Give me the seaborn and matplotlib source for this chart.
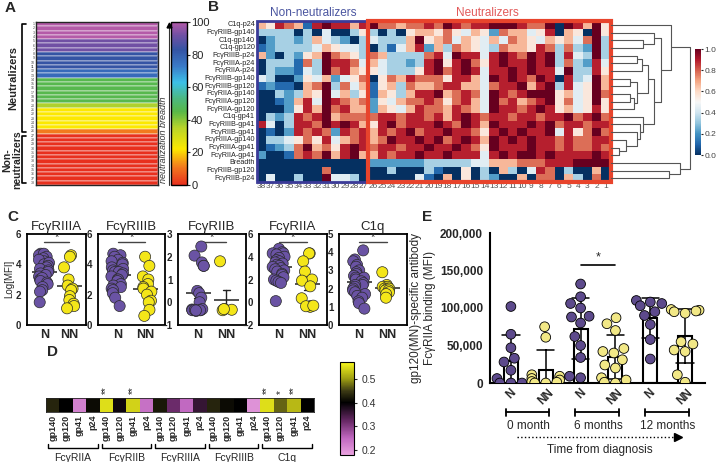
import warnings
import numpy as np
import pandas as pd
import matplotlib
matplotlib.use("Agg")
import matplotlib.pyplot as plt
from matplotlib.colors import LinearSegmentedColormap
from matplotlib.patches import Rectangle
from matplotlib.lines import Line2D
import seaborn as sns

warnings.filterwarnings("ignore")

# ---------------- data ----------------
# A: neutralization breadth per subject (1..38)
subjects = list(range(1, 39))
breadth = [100, 100, 100, 100, 92, 92, 92, 83, 83, 83, 83, 77, 77,
           46, 46, 46, 46, 46, 46, 36, 22, 22, 22, 22, 22, 11,
           0, 0, 0, 0, 0, 0, 0, 0, 0, 0, 0, 0]

# B: normalised responses (digit/9), columns 38..27 (non-neutr.) then 26..1
hm_rows = ["C1q-p24", "FcγRIIB-gp140", "C1q-gp140", "C1q-gp120", "FcγRIIIB-p24",
           "FcγRIIIA-p24", "FcγRIIA-p24", "FcγRIIIB-gp140", "FcγRIIIB-gp120",
           "FcγRIIA-gp140", "FcγRIIIA-gp120", "FcγRIIA-gp120", "C1q-gp41",
           "FcγRIIIB-gp41", "FcγRIIB-gp41", "FcγRIIIA-gp140", "FcγRIIIA-gp41",
           "FcγRIIA-gp41", "Breadth", "FcγRIIB-gp120", "FcγRIIB-p24"]
nn_cols = [38, 37, 36, 35, 34, 33, 32, 31, 30, 29, 28, 27]
n_cols = [26, 25, 24, 23, 22, 21, 20, 19, 18, 17, 16, 15, 14, 13, 12, 11, 10,
          9, 8, 7, 6, 5, 4, 3, 2, 1]
nn_cells = ["658761898868", "333303040035", "023323643203", "123333465443",
            "620325697653", "033317398874", "032214397865", "430025462457",
            "121106793746", "003236594635", "001268498767", "000258697866",
            "032387896777", "840388798986", "010287872878", "033457584678",
            "012379675898", "200178796896", "000000000000", "000000070000",
            "040030094430"]
n_cells = ["97767787987889998779098695", "30305665754652766458065095",
           "43336956746546476546564793", "03146826376543766587373293",
           "76333378498848987989384393", "64332389589758988989373284",
           "54333589789848898988493385", "05768777588649898798083496",
           "15637667886647889689384596", "16536889678749878999564597",
           "25467787578649786789574595", "26546877687649887898564585",
           "78878878689878878878897897", "58978889879869888989788788",
           "68789788988758989889485797", "67988989789869898988787788",
           "78878898898759888988787787", "68788988988848989989888898",
           "22222233333446667778889999", "00300031005030630487030060",
           "00000410605032006077063070"]
# dendrogram merges (left, right, height)
dendro_links = [(2, 3, 0.41), (1, 21, 0.55), (4, 5, 0.33), (23, 6, 0.40),
                (7, 8, 0.25), (9, 10, 0.25), (26, 11, 0.30), (25, 27, 0.33),
                (24, 28, 0.47), (16, 17, 0.11), (15, 30, 0.19), (14, 31, 0.33),
                (13, 32, 0.37), (12, 33, 0.41), (29, 34, 0.55), (22, 35, 0.64),
                (0, 36, 0.76), (19, 20, 0.74), (18, 38, 0.88), (37, 39, 1.0)]

# C: Log[MFI] neutralizers (N) vs non-neutralizers (NN)
c_titles = ["FcγRIIIA", "FcγRIIIB", "FcγRIIB", "FcγRIIA", "C1q"]
c_n = [
    [4.7, 4.6, 4.7, 4.5, 4.4, 4.2, 4.3, 4.0, 4.1, 3.9, 3.8, 3.7, 3.6, 3.5,
     3.4, 3.3, 3.2, 3.0, 3.1, 2.9, 2.8, 2.7, 2.5, 2.3, 2.2, 1.5],
    [4.7, 4.6, 4.5, 4.3, 4.2, 4.1, 4.0, 3.8, 3.7, 3.6, 3.5, 3.5, 3.4, 3.3,
     3.2, 3.0, 3.0, 2.9, 2.7, 2.6, 2.5, 2.4, 2.3, 2.1, 1.8, 1.25],
    [2.45, 2.05, 1.75, 1.6, 1.6, 0.5, 0.4, 0.2, 0.0, -0.35, -0.32, -0.36,
     -0.35, -0.3, -0.38, -0.35, -0.33, -0.36],
    [4.7, 4.4, 4.3, 4.3, 4.2, 4.0, 3.9, 3.7, 3.6, 3.5, 3.4, 3.3, 3.2, 3.1,
     3.0, 2.9, 2.8, 2.7, 2.5, 2.4, 2.2, 2.0, 1.9, 1.8, 1.7, 0.1],
    [4.1, 3.6, 3.5, 3.3, 3.2, 3.0, 2.9, 2.8, 2.7, 2.6, 2.6, 2.5, 2.4, 2.3,
     2.2, 2.2, 2.1, 2.0, 1.9, 1.8, 1.7, 1.6, 1.5, 1.3, 1.2, 0.9],
]
c_nn = [
    [4.6, 4.5, 3.8, 3.0, 2.6, 2.4, 2.3, 1.9, 1.65, 1.4, 1.25, 1.1],
    [4.5, 3.9, 3.2, 3.0, 2.7, 2.5, 2.4, 2.2, 2.0, 1.6, 1.5, 1.0, 0.6],
    [1.8, -0.3, -0.33, -0.35, -0.3],
    [4.3, 4.3, 3.6, 2.7, 2.0, 1.9, 1.4, 0.35, -0.35, -0.4, -0.35, -0.3],
    [2.9, 2.2, 2.1, 2.1, 2.0, 2.0, 2.0, 1.9, 1.9, 1.8, 1.7, 1.5],
]

# D: correlation strip
d_groups = ["FcγRIIA", "FcγRIIB", "FcγRIIIA", "FcγRIIIB", "C1q"]
d_antigens = ["gp140", "gp120", "gp41", "p24"]
d_values = [0.43, 0.40, 0.22, 0.41,
            0.55, 0.39, 0.54, 0.24,
            0.42, 0.32, 0.25, 0.36,
            0.43, 0.41, 0.40, 0.20,
            0.55, 0.47, 0.52, 0.40]
d_stars = ["", "", "", "", "**", "", "**", "", "", "", "", "",
           "", "", "", "", "**", "*", "**", ""]

# E: gp120(MN)-specific FcγRIIA binding (MFI)
e_times = ["0 month", "6 months", "12 months"]
e_n0 = [102000, 65000, 47000, 33000, 28000, 17000, 6000, 0, 0, 0]
e_nn0 = [75000, 61000, 11000, 9000, 6000, 4000, 2000, 1000, 0, 0]
e_n6 = [132000, 115000, 100000, 106000, 89000, 88000, 80000, 62000, 50000,
        34000, 9000, 7000]
e_nn6 = [87000, 79000, 70000, 46000, 42000, 40000, 31000, 24000, 20000, 7000,
         4000, 1000, 0]
e_n12 = [110000, 108000, 106000, 103000, 95000, 90000, 78000, 58000, 32000]
e_nn12 = [98000, 97000, 96000, 95000, 93000, 55000, 52000, 44000, 42000,
          11000, 1000]

# ---------------- styling ----------------
sns.set_style("white")
plt.rcParams["font.family"] = ["Liberation Sans", "DejaVu Sans"]
PURPLE = "#6a53a4"
YELLOW = "#f4e619"
E_PURPLE = "#5d4a8c"
E_YELLOW = "#f2e886"

W, H = 720, 462
fig = plt.figure(figsize=(7.2, 4.62), dpi=100)


def px_axes(x0, y0, x1, y1):
    return fig.add_axes([x0 / W, 1 - y1 / H, (x1 - x0) / W, (y1 - y0) / H])


def fig_line(xs, ys, **kw):
    fig.add_artist(Line2D([x / W for x in xs], [1 - y / H for y in ys],
                          color=kw.pop("color", "black"), lw=kw.pop("lw", 1.2), **kw))


def ftext(x, y, s, **kw):
    fig.text(x / W, 1 - y / H, s, **kw)


# ---------------- panel A ----------------
cmapA = LinearSegmentedColormap.from_list("breadth", [
    (0.0, "#e8301e"), (0.11, "#f27a1e"), (0.22, "#fce800"), (0.35, "#b8d42a"),
    (0.45, "#58b848"), (0.53, "#4cb880"), (0.63, "#3cc0e8"), (0.73, "#3a7ac8"),
    (0.83, "#3454a4"), (0.92, "#7050a4"), (1.0, "#b45aa8")])
axA = px_axes(36, 22, 158, 185)
caxA = px_axes(171, 22, 187, 185)
dfA = pd.DataFrame({"breadth": breadth}, index=subjects)
sns.heatmap(dfA, ax=axA, cmap=cmapA, vmin=0, vmax=100, cbar_ax=caxA,
            xticklabels=False, yticklabels=True, linewidths=0.15,
            linecolor=(1, 1, 1, 0.25))
axA.tick_params(axis="y", labelsize=2.6, length=0, pad=1, labelcolor="#444")
axA.set_ylabel("")
for sp in axA.spines.values():
    sp.set_visible(True)
    sp.set_linewidth(1)
caxA.set_yticks([0, 20, 40, 60, 80, 100])
caxA.tick_params(labelsize=8, length=2, width=0.8, pad=1)
cbA = axA.collections[0].colorbar
cbA.outline.set_linewidth(1)
cbA.outline.set_edgecolor("black")

ftext(163, 140, "neutralization breadth", rotation=90, style="italic",
      fontsize=6.5, ha="center", va="center", color="#333")
fig_line([169, 169], [185, 26], lw=0.8, color="#333")
fig.add_artist(Line2D([169 / W], [1 - 25 / H], marker="^", markersize=3.5,
                      color="black"))

fig_line([26, 22, 22, 26], [24, 24, 132, 132])
fig_line([26, 22, 22, 26], [136, 136, 183, 183])
ftext(13, 78, "Neutralizers", rotation=90, fontweight="bold", fontsize=8,
      ha="center", va="center")
ftext(12, 160, "Non-\nneutralizers", rotation=90, fontweight="bold",
      fontsize=7.5, ha="center", va="center", multialignment="center",
      linespacing=0.95)
ftext(5, 8, "A", fontweight="bold", fontsize=11, va="center")

# ---------------- panel B ----------------
for a, b in zip(nn_cells, n_cells):
    assert len(a) == len(nn_cols) and len(b) == len(n_cols)
vals = np.array([[int(c) / 9 for c in a + b] for a, b in zip(nn_cells, n_cells)])
dfB = pd.DataFrame(vals, index=hm_rows, columns=nn_cols + n_cols)

axB = px_axes(256.5, 21, 610.5, 182)
caxB = px_axes(695, 49, 701, 155)
sns.heatmap(dfB, ax=axB, cmap="RdBu_r", vmin=0, vmax=1, cbar_ax=caxB,
            xticklabels=True, yticklabels=True)
axB.tick_params(axis="both", length=0, pad=1)
axB.set_yticklabels(hm_rows, rotation=0, fontsize=5.2, color="#222")
axB.set_xticklabels([str(c) for c in dfB.columns], rotation=0, fontsize=6,
                    color="#555")
axB.add_patch(Rectangle((0, 0), len(nn_cols), len(hm_rows), fill=False,
                        ec="#3b3b98", lw=2, clip_on=False))
axB.add_patch(Rectangle((len(nn_cols), 0), len(n_cols), len(hm_rows),
                        fill=False, ec="#e8442c", lw=3, clip_on=False))
caxB.set_yticks([0, 0.2, 0.4, 0.6, 0.8, 1.0])
caxB.set_yticklabels(["0.0", "0.2", "0.4", "0.6", "0.8", "1.0"])
caxB.tick_params(labelsize=6, length=1.5, pad=1, labelcolor="#444")
ftext(313, 13, "Non-neutralizers", color="#4a55a0", fontsize=8.5,
      ha="center", va="center")
ftext(487, 13, "Neutralizers", color="#e25a5a", fontsize=8.5,
      ha="center", va="center")
ftext(208, 7, "B", fontweight="bold", fontsize=11, va="center")

# dendrogram
axDen = px_axes(610.5, 21, 690, 182)
axDen.set_xlim(0, 1.0)
axDen.set_ylim(len(hm_rows), 0)
axDen.axis("off")
ypos = {i: i + 0.5 for i in range(len(hm_rows))}
hgt = {i: 0.0 for i in range(len(hm_rows))}
for k, (a, b, h) in enumerate(dendro_links):
    node = len(hm_rows) + k
    axDen.plot([hgt[a], h, h, hgt[b]], [ypos[a], ypos[a], ypos[b], ypos[b]],
               color="#555", lw=0.8, clip_on=False)
    ypos[node] = (ypos[a] + ypos[b]) / 2
    hgt[node] = h

# ---------------- panel C ----------------
c_left = [27, 98, 178, 259, 339]
c_width = [59, 67, 68, 68, 68]
c_ylims = [(0, 6), (0, 6), (-1, 3), (-2, 6), (0, 5)]
c_yticks = [[0, 2, 4, 6], [0, 2, 4, 6], [-1, 0, 1, 2, 3], [-2, 0, 2, 4, 6],
            [0, 1, 2, 3, 4, 5]]
for i, title in enumerate(c_titles):
    ax = px_axes(c_left[i], 234, c_left[i] + c_width[i], 325)
    dfc = pd.DataFrame({"grp": ["N"] * len(c_n[i]) + ["NN"] * len(c_nn[i]),
                        "val": c_n[i] + c_nn[i]})
    np.random.seed(11 + i)  # fixed jitter only
    sns.stripplot(data=dfc, x="grp", y="val", hue="grp",
                  palette={"N": PURPLE, "NN": YELLOW}, size=8, jitter=0.22,
                  edgecolor="#2a2a2a", linewidth=0.5, legend=False, ax=ax)
    sns.pointplot(data=dfc, x="grp", y="val", errorbar="se", color="#222",
                  markers="_", markersize=18, markeredgewidth=1.1,
                  linestyle="none", capsize=0.25, err_kws={"linewidth": 1},
                  ax=ax)
    ax.set_xlim(-0.7, 1.7)
    ax.set_ylim(*c_ylims[i])
    ax.set_yticks(c_yticks[i])
    ax.set_yticklabels([str(t).replace("-", "\u2212") for t in c_yticks[i]],
                       fontsize=7, fontweight="bold")
    ax.set_xticks([0, 1])
    ax.set_xticklabels(["N", "NN"], fontsize=9, fontweight="bold")
    ax.tick_params(axis="y", length=3, width=1.2, pad=1)
    ax.tick_params(axis="x", length=0, pad=3)
    for sp in ax.spines.values():
        sp.set_visible(True)
        sp.set_linewidth(1.3)
        sp.set_color("black")
    ax.set_xlabel("")
    ax.set_ylabel("")
    ax.set_title(title, fontsize=9.5, pad=3)
    tr = ax.get_xaxis_transform()
    ax.plot([0, 1], [0.91, 0.91], color="#444", lw=1, transform=tr)
    ax.text(0.5, 0.915, "*", transform=tr, ha="center", va="bottom",
            fontsize=8)
ftext(9.5, 279, "Log[MFI]", rotation=90, fontsize=7, ha="center",
      va="center")
ftext(7, 217, "C", fontweight="bold", fontsize=11, va="center")

# ---------------- panel D ----------------
cmapD = LinearSegmentedColormap.from_list("corr", [
    (0.0, "#eaa2e0"), (0.18, "#c068c0"), (0.36, "#6a2a68"), (0.564, "#000000"),
    (0.69, "#3c3a14"), (0.82, "#9c9c12"), (1.0, "#f8f81c")])
axDs = px_axes(46, 398, 314, 412)
caxD = px_axes(340, 362, 354, 455)
dfD = pd.DataFrame([d_values],
                   columns=[f"{g} {a}" for g in d_groups for a in d_antigens])
sns.heatmap(dfD, ax=axDs, cmap=cmapD, vmin=0.18, vmax=0.57, cbar_ax=caxD,
            xticklabels=False, yticklabels=False)
axDs.set_xticks(np.arange(len(d_values)) + 0.5)
axDs.set_xticklabels(d_antigens * len(d_groups), rotation=90, fontsize=6.5,
                     fontweight="bold")
axDs.tick_params(axis="x", length=0, pad=2)
for sp in axDs.spines.values():
    sp.set_visible(True)
    sp.set_linewidth(0.6)
for j, s in enumerate(d_stars):
    if s:
        axDs.text(j + 0.5, -0.25, s, rotation=90, ha="center", va="bottom",
                  fontsize=7)
for gi, g in enumerate(d_groups):
    x0, x1 = gi * 4 + 0.15, gi * 4 + 3.85
    axDs.plot([x0, x0, x1, x1], [3.3, 3.55, 3.55, 3.3], color="black", lw=1,
              clip_on=False)
    axDs.text(gi * 4 + 2, 4.3, g, ha="center", va="center", fontsize=7.5)
caxD.set_yticks([0.2, 0.3, 0.4, 0.5])
caxD.tick_params(labelsize=7.5, length=2, labelcolor="#333")
cbD = axDs.collections[0].colorbar
cbD.outline.set_linewidth(0.8)
cbD.outline.set_edgecolor("black")
ftext(47, 352, "D", fontweight="bold", fontsize=11, va="center")

# ---------------- panel E ----------------
e_order = ["N0", "NN0", "N6", "NN6", "N12", "NN12"]
e_lists = [e_n0, e_nn0, e_n6, e_nn6, e_n12, e_nn12]
dfE = pd.DataFrame({
    "cat": [c for c, l in zip(e_order, e_lists) for _ in l],
    "grp": [("NN" if c.startswith("NN") else "N") for c, l in zip(e_order, e_lists) for _ in l],
    "val": [v for l in e_lists for v in l]})
axE = px_axes(490, 233, 705, 383)
sns.barplot(data=dfE, x="cat", y="val", order=e_order, errorbar="sd",
            capsize=0.5, width=0.4, color="white", edgecolor="black",
            linewidth=1.5, err_kws={"color": "black", "linewidth": 1.1},
            ax=axE)
sns.swarmplot(data=dfE, x="cat", y="val", order=e_order, hue="grp",
              palette={"N": E_PURPLE, "NN": E_YELLOW}, size=7,
              edgecolor="black", linewidth=0.6, legend=False, ax=axE)
axE.set_xlim(-0.6, 5.57)
axE.set_ylim(0, 200000)
axE.set_yticks([0, 50000, 100000, 150000, 200000])
axE.set_yticklabels(["0", "50,000", "100,000", "150,000", "200,000"],
                    fontsize=8.5, fontweight="bold")
axE.set_xticks(range(6))
axE.set_xticklabels(["N", "NN"] * 3, rotation=45, fontsize=8.5,
                    fontweight="bold", ha="center")
axE.tick_params(axis="y", length=4, width=1.5, pad=1)
axE.tick_params(axis="x", length=0, pad=3)
sns.despine(ax=axE)
for sp in ["left", "bottom"]:
    axE.spines[sp].set_linewidth(1.5)
    axE.spines[sp].set_color("black")
axE.set_xlabel("")
axE.set_ylabel("gp120(MN)-specific antibody\nFcγRIIA binding (MFI)",
               fontsize=8.5, labelpad=3)
axE.plot([2, 3], [157000, 157000], color="black", lw=1.2)
axE.text(2.5, 159000, "*", ha="center", va="bottom", fontsize=9)
trE = axE.get_xaxis_transform()
for ti, lbl in enumerate(e_times):
    x0, x1 = 2 * ti - 0.15, 2 * ti + 1.1
    axE.plot([x0, x1], [-0.195, -0.195], color="black", lw=1.3,
             transform=trE, clip_on=False)
    for xx in (x0, x1):
        axE.plot([xx, xx], [-0.17, -0.22], color="black", lw=1.3,
                 transform=trE, clip_on=False)
    axE.text(2 * ti + 0.5, -0.285, lbl, transform=trE, ha="center",
             va="center", fontsize=8.5)
axE.plot([0.18, 4.75], [-0.36, -0.36], color="black", lw=1, ls=":",
         transform=trE, clip_on=False)
axE.plot([4.8], [-0.36], marker=">", markersize=6, color="black",
         transform=trE, clip_on=False)
axE.text(2.55, -0.445, "Time from diagnosis", transform=trE, ha="center",
         va="center", fontsize=8.5)
ftext(422, 217, "E", fontweight="bold", fontsize=11, va="center")

plt.savefig("out.png", dpi=100)
